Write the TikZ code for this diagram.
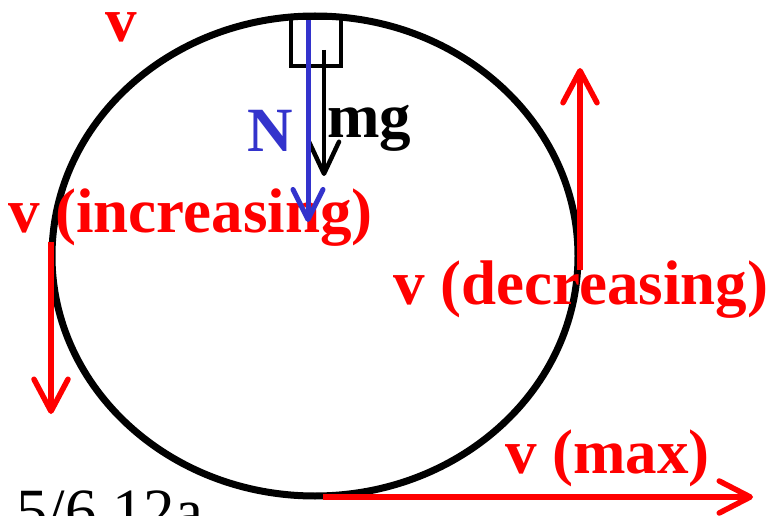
\documentclass[tikz,border=0pt]{standalone}
\usepackage{fontspec}
\setmainfont{Liberation Serif}
\usetikzlibrary{arrows.meta}
\definecolor{vred}{RGB}{255,0,0}
\definecolor{nblue}{RGB}{51,51,204}
\tikzset{
  lbl/.style={inner sep=0pt, anchor=base west, font=\fontsize{63}{70}\selectfont\bfseries},
  varrow/.style={draw=vred, line width=5.5pt, -{Straight Barb[length=32pt, width=34pt, round]}},
  track/.style={draw=black, line width=7pt},
}
\begin{document}
\begin{tikzpicture}[x=1pt, y=-1pt]
\useasboundingbox (0,0) rectangle (772,516);
% track
\draw[track] (315,256) ellipse [x radius=263, y radius=240];
% block
\draw[line width=4pt] (291,18) rectangle (341,66);
% coordinates
\coordinate (Lt) at (51,242);
\coordinate (Lb) at (51,414);
\coordinate (Rb) at (580,270);
\coordinate (Rt) at (580,68);
\coordinate (Bl) at (323,497);
\coordinate (Br) at (753,497);
\coordinate (Nt) at (308,20);
\coordinate (Nb) at (308,222);
\coordinate (Gt) at (324,50);
\coordinate (Gb) at (324,176);
% velocity arrows
\draw[varrow] (Lt) -- (Lb);
\draw[varrow] (Rb) -- (Rt);
\draw[varrow, -{Straight Barb[length=31pt, width=32pt, round]}] (Bl) -- (Br);
% gravity
\draw[line width=4.5pt, -{Straight Barb[length=32pt, width=30pt, round]}] (Gt) -- (Gb);
% labels
\node[lbl, text=vred] (vtop) at (105,42) {v};
\node[lbl, text=vred] (vinc) at (8,233) {v (increasing)};
\node[lbl, text=vred] (vdec) at (393,305) {v (decreasing)};
\node[lbl, text=vred] (vmax) at (505,473) {v (max)};
\node[lbl, text=nblue] (nlab) at (247,152) {N};
\node[lbl, text=black] (mglab) at (327,138) {mg};
\node[inner sep=0pt, anchor=base west, font=\fontsize{63}{70}\selectfont] (code) at (16,532) {5/6 12a};
% normal force (drawn over text)
\draw[nblue, line width=5pt, -{Straight Barb[length=30pt, width=30pt, round]}] (Nt) -- (Nb);
\end{tikzpicture}
\end{document}
